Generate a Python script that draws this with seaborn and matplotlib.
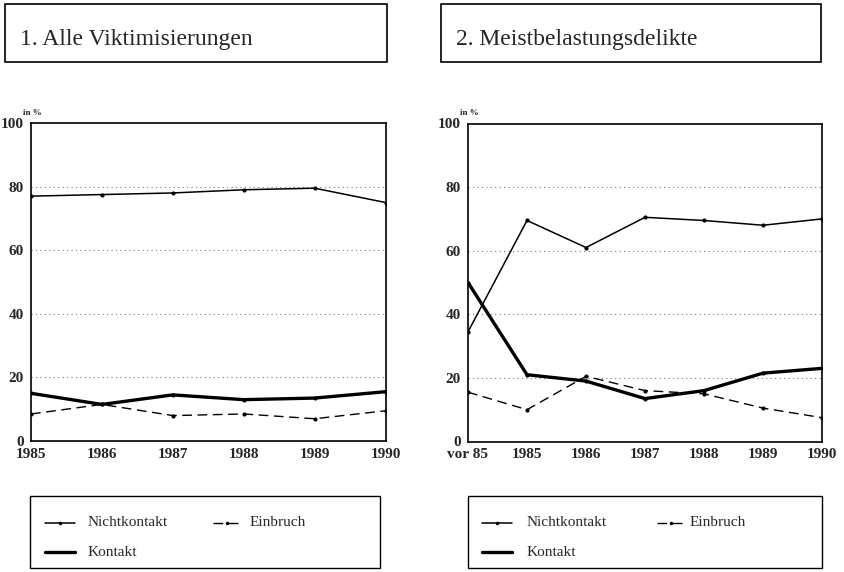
import matplotlib
matplotlib.use("Agg")

import matplotlib.pyplot as plt
import pandas as pd
import seaborn as sns
from matplotlib.lines import Line2D
from matplotlib.patches import Rectangle

# Panel 1: Alle Viktimisierungen
years_1 = ["1985", "1986", "1987", "1988", "1989", "1990"]
nichtkontakt_1 = [77, 77.5, 78, 79, 79.5, 75]
kontakt_1 = [15, 11.5, 14.5, 13, 13.5, 15.5]
einbruch_1 = [8.5, 11.5, 8, 8.5, 7, 9.5]

# Panel 2: Meistbelastungsdelikte
years_2 = ["vor 85", "1985", "1986", "1987", "1988", "1989", "1990"]
nichtkontakt_2 = [34.5, 69.5, 61, 70.5, 69.5, 68, 70]
kontakt_2 = [50, 21, 19, 13.5, 16, 21.5, 23]
einbruch_2 = [15.5, 10, 20.5, 16, 15, 10.5, 7.5]

titles = ["1. Alle Viktimisierungen", "2. Meistbelastungsdelikte"]
series_names = ["Nichtkontakt", "Kontakt", "Einbruch"]

sns.set_style("white")
plt.rcParams["font.family"] = ["Liberation Serif", "DejaVu Serif"]

W, H = 844, 572

STYLES = {
    "Nichtkontakt": dict(color="black", linewidth=1.1, linestyle="-"),
    "Kontakt": dict(color="black", linewidth=2.4, linestyle="-"),
    "Einbruch": dict(color="black", linewidth=1.0, linestyle=(0, (7, 4))),
}


def fx(px):
    return px / W


def fy(py):
    return 1 - py / H


def draw_panel(fig, rect, labels, series, title, title_px, legend_px, handle_px):
    ax = fig.add_axes(rect)
    pos = list(range(len(labels)))
    for name, values in series.items():
        df = pd.DataFrame({"x": pos, "y": values})
        st = STYLES[name]
        sns.lineplot(data=df, x="x", y="y", ax=ax, color=st["color"],
                     linewidth=st["linewidth"], linestyle=st["linestyle"],
                     marker="o", markersize=3, markeredgewidth=0)
    for yv in [20, 40, 60, 80]:
        ax.axhline(yv, color="#777777", linestyle=(0, (1, 3)), linewidth=0.8, zorder=0)
    ax.set_xlim(0, len(labels) - 1)
    ax.set_ylim(0, 100)
    ax.set_xticks(pos)
    ax.set_xticklabels(labels)
    ax.set_yticks([0, 20, 40, 60, 80, 100])
    ax.set_xlabel("")
    ax.set_ylabel("")
    ax.tick_params(axis="both", labelsize=11, length=3, direction="out",
                   color="black", width=1, pad=2)
    for lbl in ax.get_xticklabels() + ax.get_yticklabels():
        lbl.set_fontweight("bold")
    for sp in ax.spines.values():
        sp.set_color("black")
        sp.set_linewidth(1.2)
    ax.text(-0.023, 1.02, "in %", transform=ax.transAxes, fontsize=6.5,
            fontweight="bold", ha="left", va="bottom")

    # title box
    x0, y0, x1, y1 = title_px
    fig.patches.append(Rectangle((fx(x0), fy(y1)), fx(x1) - fx(x0), fy(y0) - fy(y1),
                                 transform=fig.transFigure, fill=False,
                                 edgecolor="black", linewidth=1.2))
    fig.text(fx(x0 + 15), fy(45), title, fontsize=17, ha="left", va="baseline")

    # legend box
    x0, y0, x1, y1 = legend_px
    fig.patches.append(Rectangle((fx(x0), fy(y1)), fx(x1) - fx(x0), fy(y0) - fy(y1),
                                 transform=fig.transFigure, fill=False,
                                 edgecolor="black", linewidth=1.0))
    for name, (hx0, hx1, tx, ty) in zip(series_names, handle_px):
        st = STYLES[name]
        fig.add_artist(Line2D([fx(hx0), fx(hx1)], [fy(ty), fy(ty)],
                              transform=fig.transFigure, **st))
        if name != "Kontakt":
            fig.add_artist(Line2D([fx((hx0 + hx1) / 2)], [fy(ty)], marker="o",
                                  markersize=2.5, markeredgewidth=0, color="black",
                                  transform=fig.transFigure))
        fig.text(fx(tx), fy(ty), name, fontsize=11, ha="left", va="center")
    return ax


fig = plt.figure(figsize=(W / 100, H / 100), dpi=100)

draw_panel(fig, [fx(31), fy(441), fx(385.5) - fx(31), fy(123) - fy(441)], years_1,
           {"Nichtkontakt": nichtkontakt_1, "Kontakt": kontakt_1, "Einbruch": einbruch_1},
           titles[0], (5, 4, 387, 62), (30, 496, 380, 568),
           [(45, 75, 88, 523), (45, 75, 88, 552), (213, 240, 250, 523)])
draw_panel(fig, [fx(468), fy(441.5), fx(822) - fx(468), fy(123.5) - fy(441.5)], years_2,
           {"Nichtkontakt": nichtkontakt_2, "Kontakt": kontakt_2, "Einbruch": einbruch_2},
           titles[1], (441, 4, 821, 62), (468, 496, 822, 568),
           [(482, 512, 527, 523), (482, 512, 527, 552), (657, 684, 690, 523)])

fig.savefig("out.png", dpi=100)
